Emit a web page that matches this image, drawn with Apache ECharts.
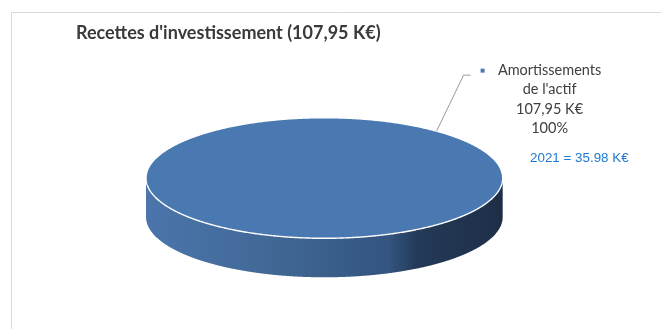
<!DOCTYPE html>
<html>
<head>
<meta charset="utf-8">
<script src="https://cdn.jsdelivr.net/npm/echarts@6/dist/echarts.min.js"></script>
<style>
  html, body { margin: 0; padding: 0; background: #ffffff; }
  #chart { width: 661px; height: 329px; }
</style>
</head>
<body>
<div id="chart"></div>
<script>
// Chart data
const categories = ["Amortissements\nde l'actif"];
const values = [107.95];
const titleText = "Recettes d'investissement (107,95 K€)";
const noteText = '2021 = 35.98 K€';

// Look of the 3D pie
const DEPTH = 0.647;            // wall height, in y-axis units
const LABEL_ANGLE = -51;        // where the leader line leaves the rim (degrees, screen)
const TOP_COLOR = '#4a79b2';
const WALL_STOPS = [
  { offset: 0, color: '#4b75ab' },
  { offset: 0.35, color: '#416896' },
  { offset: 0.68, color: '#33557f' },
  { offset: 0.76, color: '#243a58' },
  { offset: 1, color: '#1e2e47' }
];

const total = values.reduce((a, b) => a + b, 0);
const fmtValue = v => v.toFixed(2).replace('.', ',') + ' K€';
const fmtPct = v => Math.round(v / total * 100) + '%';

// Each slice: [x, y, value, startFraction, endFraction, index]
let acc = 0;
const sliceData = values.map((v, i) => {
  const s = acc / total;
  acc += v;
  return [0, 0, v, s, acc / total, i];
});

function renderItem(params, api) {
  const c = api.coord([0, 0]);
  const rx = api.size([1, 0])[0];
  const ry = api.size([0, 1])[1];
  const depth = api.size([0, DEPTH])[1];
  const idx = api.value(5);
  const f0 = api.value(3), f1 = api.value(4);
  const th0 = -Math.PI / 2 + f0 * 2 * Math.PI;
  const th1 = -Math.PI / 2 + f1 * 2 * Math.PI;
  const pt = (t, dy) => [c[0] + rx * Math.cos(t), c[1] + ry * Math.sin(t) + (dy || 0)];
  const N = 720;
  const children = [];

  // front wall
  const lo = Math.max(th0, 0), hi = Math.min(th1, Math.PI);
  if (hi > lo) {
    const pts = [];
    for (let k = 0; k <= N; k++) pts.push(pt(lo + (hi - lo) * k / N));
    for (let k = N; k >= 0; k--) pts.push(pt(lo + (hi - lo) * k / N, depth));
    children.push({
      type: 'polygon',
      shape: { points: pts },
      style: { fill: new echarts.graphic.LinearGradient(0, 0, 1, 0, WALL_STOPS) }
    });
  }

  // top face
  const full = f1 - f0 > 1 - 1e-9;
  const topPts = [];
  if (!full) topPts.push([c[0], c[1]]);
  for (let k = 0; k <= N; k++) topPts.push(pt(th0 + (th1 - th0) * k / N));
  children.push({
    type: 'polygon',
    shape: { points: topPts },
    style: { fill: TOP_COLOR, stroke: '#ffffff', lineWidth: 1.4 }
  });

  // data label with leader line
  const a = LABEL_ANGLE * Math.PI / 180;
  const p0 = pt(a);
  const p1 = [p0[0] + 27, p0[1] - 56];
  const p2 = [p1[0] + 7, p1[1]];
  children.push({
    type: 'polyline',
    shape: { points: [p0, p1, p2] },
    style: { stroke: '#9a9a9a', lineWidth: 1, fill: null }
  });
  children.push({
    type: 'rect',
    shape: { x: p2[0] + 10, y: p2[1] - 6.5, width: 4, height: 4 },
    style: { fill: TOP_COLOR }
  });
  children.push({
    type: 'text',
    style: {
      x: p2[0] + 79,
      y: p2[1] - 15,
      text: categories[idx] + '\n' + fmtValue(api.value(2)) + '\n' + fmtPct(api.value(2)),
      align: 'center',
      verticalAlign: 'top',
      fontFamily: 'Lato',
      fontSize: 14.5,
      lineHeight: 19.6,
      fill: '#404040'
    }
  });

  return { type: 'group', children: children };
}

const chart = echarts.init(document.getElementById('chart'), null, { renderer: 'canvas' });
chart.setOption({
  animation: false,
  backgroundColor: '#ffffff',
  title: {
    text: titleText,
    left: 76,
    top: 24,
    padding: 0,
    textStyle: { fontFamily: 'Lato', fontWeight: 'bold', fontSize: 18, color: '#3a3a3a' }
  },
  graphic: [
    {
      type: 'rect',
      shape: { x: 11.5, y: 12.5, width: 800, height: 500 },
      style: { fill: null, stroke: '#d9d9d9', lineWidth: 1 },
      silent: true
    },
    {
      type: 'text',
      x: 530,
      y: 158,
      style: {
        text: noteText,
        fontFamily: 'Liberation Sans',
        fontSize: 13.4,
        fill: '#1f78d1',
        verticalAlign: 'middle'
      }
    }
  ],
  grid: { left: 146, right: 158.3, top: 117.7, bottom: 51.7 },
  xAxis: { type: 'value', min: -1, max: 1, show: false },
  yAxis: { type: 'value', min: -(1 + DEPTH), max: 1, show: false },
  series: [{
    type: 'custom',
    name: categories[0],
    renderItem: renderItem,
    encode: { x: 0, y: 1 },
    data: sliceData,
    clip: false
  }]
});
</script>
</body>
</html>
